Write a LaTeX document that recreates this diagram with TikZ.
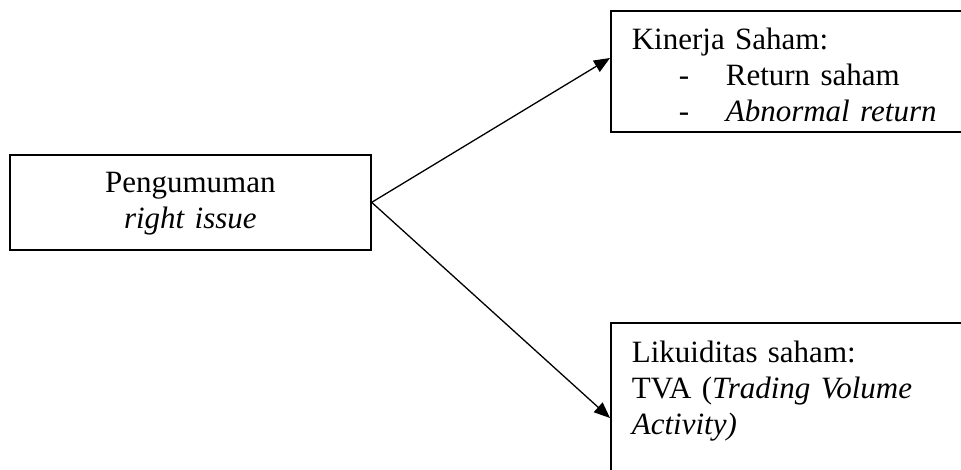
\documentclass[tikz,border=0pt]{standalone}
\usepackage{fontspec}
\setmainfont{Liberation Serif}
\usetikzlibrary{arrows.meta,positioning,calc}

\begin{document}
\begin{tikzpicture}[
  x=1pt, y=-1pt,
  every node/.style={font=\fontsize{31}{36}\selectfont},
  box/.style={rectangle, draw=black, line width=1.7pt, inner ysep=0pt},
  arrow/.style={-{Triangle[length=16pt,width=13pt]}, line width=1.3pt},
]
\useasboundingbox (0,0) rectangle (961,470);

% Source
\node[box, anchor=north west, inner xsep=0pt, text width=361pt, align=center,
  text height=38pt, text depth=57pt] (umum) at (9,154)
  {Pengumuman\\\textit{right issue}};

% Targets
\node[box, anchor=north west, inner xsep=21pt, text width=340pt, align=left,
  text height=39pt, text depth=82pt] (kinerja) at (610,10)
  {Kinerja Saham:\\
   \makebox[94pt][l]{\hspace{47pt}-}Return saham\\
   \makebox[94pt][l]{\hspace{47pt}-}\textit{Abnormal return}};
\node[box, anchor=north west, inner xsep=21pt, text width=340pt, align=left,
  text height=40pt, text depth=130pt] (likuid) at (610,322)
  {Likuiditas saham:\\
   TVA (\textit{Trading Volume}\\
   \textit{Activity)}};

% Arrows
\draw[arrow] (umum.east) -- ([yshift=-48pt]kinerja.north west);
\draw[arrow] (umum.east) -- ([yshift=-96pt]likuid.north west);
\end{tikzpicture}
\end{document}
